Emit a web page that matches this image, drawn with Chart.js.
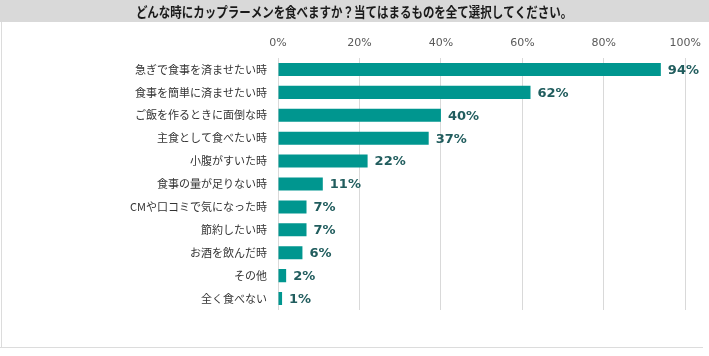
<!DOCTYPE html>
<html>
<head>
<meta charset="utf-8">
<script src="https://cdn.jsdelivr.net/npm/chart.js@4/dist/chart.umd.min.js"></script>
<style>
html,body{margin:0;padding:0;background:#fff;}
#wrap{position:relative;width:709px;height:356px;}
</style>
</head>
<body>
<div id="wrap"><canvas id="c" width="709" height="356"></canvas></div>
<script>
const titleText = 'どんな時にカップラーメンを食べますか？当てはまるものを全て選択してください。';
const categories = ['急ぎで食事を済ませたい時','食事を簡単に済ませたい時','ご飯を作るときに面倒な時','主食として食べたい時','小腹がすいた時','食事の量が足りない時','CMや口コミで気になった時','節約したい時','お酒を飲んだ時','その他','全く食べない'];
const values = [94,62,40,37,22,11,7,7,6,2,1];
const tickValues = [0,20,40,60,80,100];

const bgPlugin = {
  id: 'bg',
  beforeDraw(chart) {
    const ctx = chart.ctx;
    ctx.save();
    ctx.fillStyle = '#ffffff';
    ctx.fillRect(0, 0, chart.width, chart.height);
    ctx.fillStyle = '#d9d9d9';
    ctx.fillRect(0, 0, chart.width, 22);
    ctx.fillStyle = '#dcdcdc';
    ctx.fillRect(1, 22, 1, 325);
    ctx.fillRect(0, 347, chart.width - 6, 1);
    // title text (condensed bold)
    ctx.translate(354, 12);
    ctx.scale(0.82, 1);
    ctx.font = 'bold 14px "Noto Sans CJK JP"';
    ctx.fillStyle = '#1a1a1a';
    ctx.textAlign = 'center';
    ctx.textBaseline = 'middle';
    ctx.fillText(titleText, 0, 0);
    ctx.restore();
  }
};

const labelPlugin = {
  id: 'valueLabels',
  afterDatasetsDraw(chart) {
    const ctx = chart.ctx;
    const meta = chart.getDatasetMeta(0);
    ctx.save();
    ctx.font = 'bold 13px "DejaVu Sans"';
    ctx.fillStyle = '#215d5e';
    ctx.textAlign = 'left';
    ctx.textBaseline = 'middle';
    meta.data.forEach((bar, i) => {
      ctx.fillText(values[i] + '%', bar.x + 7, bar.y + 1);
    });
    ctx.restore();
  }
};

new Chart(document.getElementById('c'), {
  type: 'bar',
  data: {
    labels: categories,
    datasets: [{
      data: values,
      backgroundColor: '#00968f',
      borderWidth: 0,
      categoryPercentage: 1,
      barPercentage: 0.57
    }]
  },
  options: {
    indexAxis: 'y',
    responsive: false,
    animation: false,
    layout: { padding: { left: 0, right: 23, top: 22, bottom: 46 } },
    plugins: {
      legend: { display: false },
      tooltip: { enabled: false },
      title: { display: false }
    },
    scales: {
      x: {
        position: 'top',
        min: 0,
        max: 100,
        afterBuildTicks(scale) { scale.ticks = tickValues.map(v => ({ value: v })); },
        afterFit(scale) { scale.height = 36; },
        grid: { color: '#d9d9d9', drawTicks: false, lineWidth: 1 },
        border: { display: false },
        ticks: {
          padding: 8,
          color: '#595959',
          font: { family: '"DejaVu Sans"', size: 11 },
          callback: v => v + '%'
        }
      },
      y: {
        afterFit(scale) { scale.width = 278; },
        grid: { display: false },
        border: { display: false },
        ticks: {
          padding: 3,
          color: '#333333',
          font: { family: '"Noto Sans CJK JP"', size: 11 }
        }
      }
    }
  },
  plugins: [bgPlugin, labelPlugin]
});
</script>
</body>
</html>
